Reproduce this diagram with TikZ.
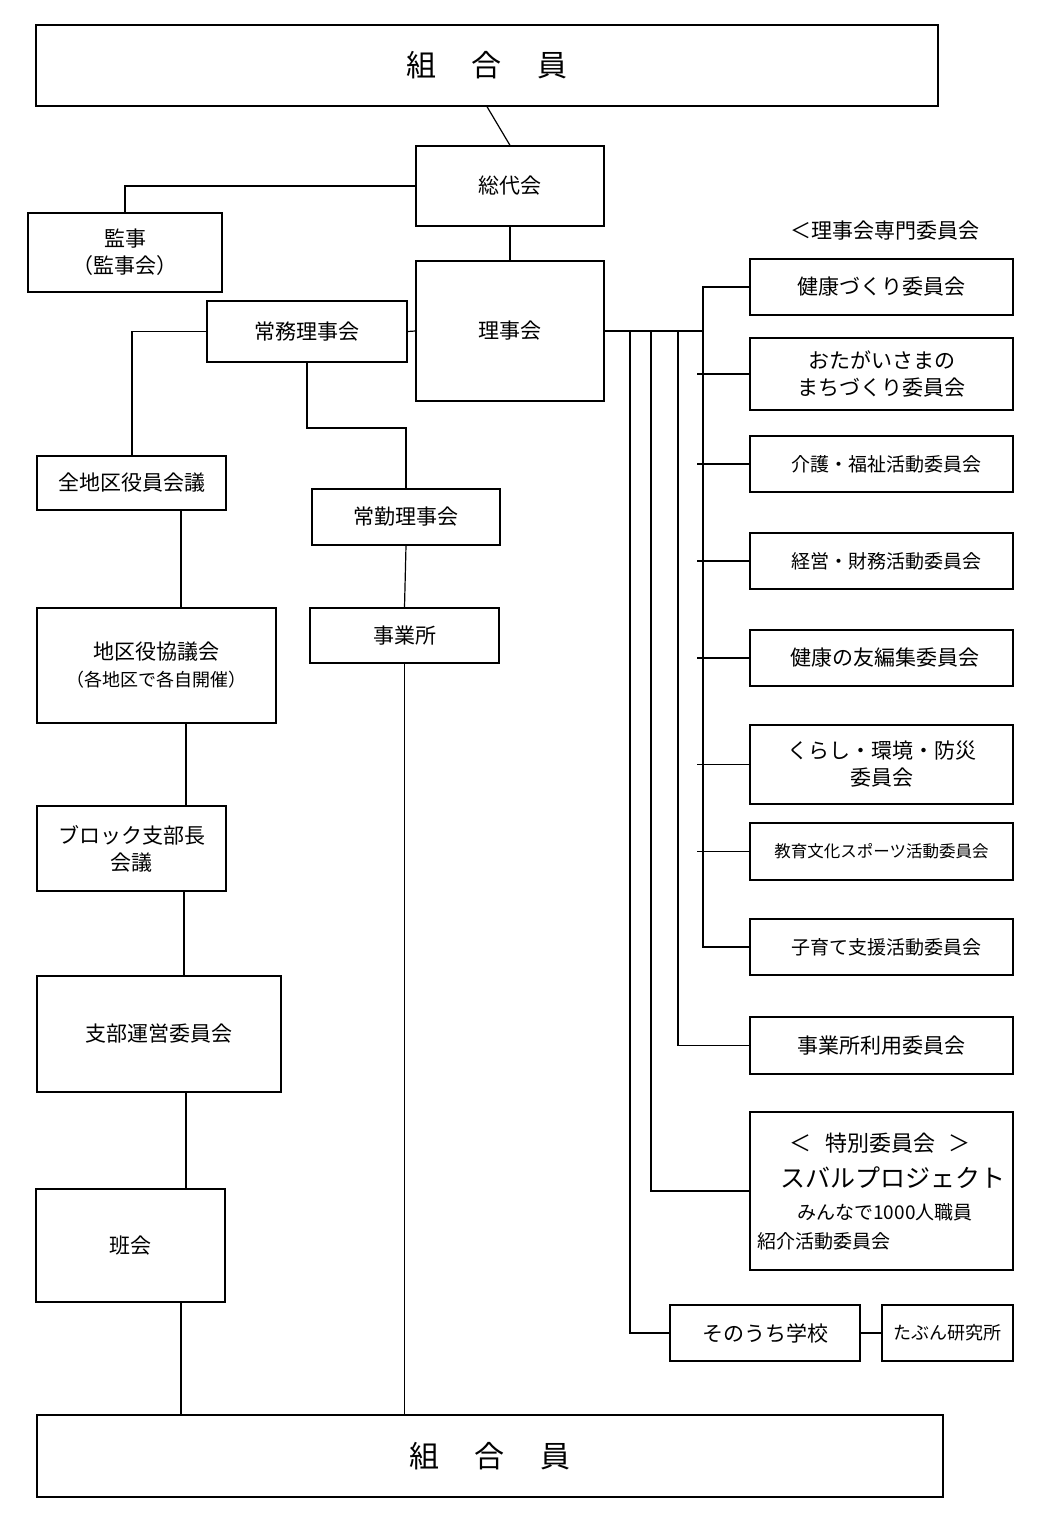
\documentclass[tikz,border=0pt]{standalone}
\usepackage{fontspec}
\setmainfont{Noto Sans CJK JP}
\begin{document}
\begin{tikzpicture}[x=1pt,y=-1pt,line width=1.3pt,
  box/.style={draw,inner sep=0pt,align=center,font=\fontsize{21}{27}\selectfont},
  ln/.style={line width=1.2pt}]
\useasboundingbox (0,0) rectangle (1054,1537);
\newcommand\B[6]{\node[box,minimum width={(#4-#2)*1pt},minimum height={(#5-#3)*1pt}] (#1) at ({(#2+#4)/2},{(#3+#5)/2}) {#6};}
\B{top}{36}{25}{938}{106}{\fontsize{30}{34}\selectfont 組\hspace{1.2em}合\hspace{1.2em}員}
\B{sodai}{416}{146}{604}{226}{総代会}
\B{kanji}{28}{213}{222}{292}{監事\\（監事会）}
\B{riji}{416}{261}{604}{401}{理事会}
\B{jomu}{207}{301}{407}{362}{常務理事会}
\B{zen}{37}{456}{226}{510}{全地区役員会議}
\B{jokin}{312}{489}{500}{545}{常勤理事会}
\B{jig}{310}{608}{499}{663}{事業所}
\B{chiku}{37}{608}{276}{723}{地区役協議会\\{\fontsize{18}{24}\selectfont（各地区で各自開催）}}
\B{block}{37}{806}{226}{891}{ブロック支部長\\会議}
\B{shibu}{37}{976}{281}{1092}{支部運営委員会}
\B{han}{36}{1189}{225}{1302}{班会}
\B{bot}{37}{1415}{943}{1497}{\fontsize{30}{34}\selectfont 組\hspace{1.2em}合\hspace{1.2em}員}
\node[font=\fontsize{21}{25}\selectfont] (lab) at (885,231) {＜理事会専門委員会};
\B{r1}{750}{259}{1013}{315}{健康づくり委員会}
\B{r2}{750}{338}{1013}{410}{おたがいさまの\\まちづくり委員会}
\B{r3}{750}{436}{1013}{492}{\fontsize{19}{24}\selectfont\hspace{0.5em}介護・福祉活動委員会}
\B{r4}{750}{533}{1013}{589}{\fontsize{19}{24}\selectfont\hspace{0.5em}経営・財務活動委員会}
\B{r5}{750}{630}{1013}{686}{\hspace{0.3em}健康の友編集委員会}
\B{r6}{750}{725}{1013}{804}{くらし・環境・防災\\委員会}
\B{r7}{750}{823}{1013}{880}{\fontsize{16.5}{20}\selectfont 教育文化スポーツ活動委員会}
\B{r8}{750}{919}{1013}{975}{\fontsize{19}{24}\selectfont\hspace{0.5em}子育て支援活動委員会}
\B{r9}{750}{1017}{1013}{1074}{事業所利用委員会}
\B{r10}{750}{1112}{1013}{1270}{}
\node[font=\fontsize{22}{26}\selectfont] (t1) at (880,1143) {＜\hspace{0.6em}特別委員会\hspace{0.6em}＞};
\node[font=\fontsize{25}{30}\selectfont] (t2) at (893,1178) {スバルプロジェクト};
\node[font=\fontsize{19}{23}\selectfont] (t3) at (885,1212) {みんなで1000人職員};
\node[font=\fontsize{19}{23}\selectfont,anchor=west] (t4) at (754,1241) {紹介活動委員会};
\B{sono}{670}{1305}{860}{1361}{そのうち学校}
\B{tabun}{882}{1305}{1013}{1361}{\fontsize{18}{22}\selectfont たぶん研究所}
\begin{scope}[ln]
\draw (top.south) -- (sodai.north);
\draw (sodai.south) -- (riji.north);
\draw (sodai.west) -| (kanji.north);
\draw (jomu.east) -- (riji.west);
\draw (jomu.west) -| (zen.north -| 132,0);
\coordinate (j1) at (307,362); \coordinate (j2) at (307,428); \coordinate (j3) at (406,428);
\draw (j1) -- (j2) -- (j3) -- (jokin.north);
\draw (jokin.south) -- (jig.north);
\draw (jig.south) -- (jig.south |- bot.north);
\draw (181,510) -- (181,608);
\draw (186,723) -- (186,806);
\draw (184,891) -- (184,976);
\draw (186,1092) -- (186,1189);
\draw (181,1302) -- (181,1415);
\coordinate (b0) at (703,331);
\draw (riji.east) -- (b0);
\draw (r1.west) -| (703,947) -- (r8.west);
\foreach \n in {r2,r3,r4,r5,r6,r7} \draw (\n.west) -- (\n.west -| 697,0);
\draw (678,331) |- (r9.west);
\draw (651,331) |- (650,1191) -- (750,1191);
\draw (630,331) |- (sono.west);
\draw (sono.east) -- (tabun.west);
\end{scope}
\end{tikzpicture}
\end{document}
